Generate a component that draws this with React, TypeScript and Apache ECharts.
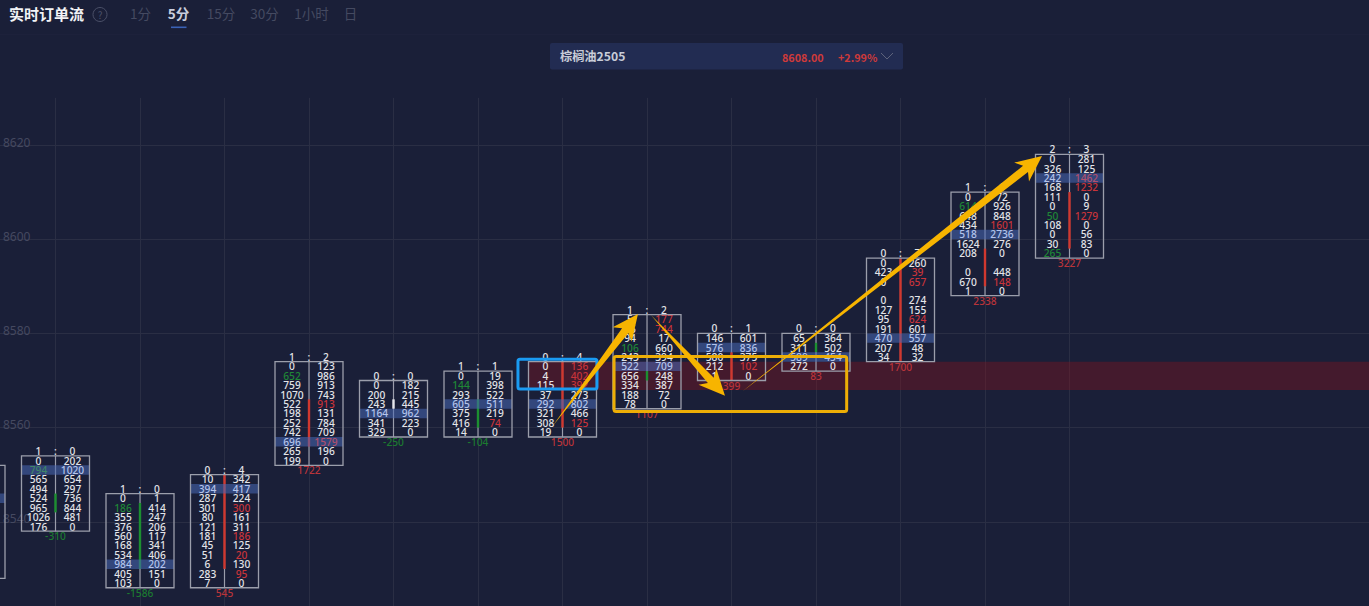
import React, { useEffect, useRef } from "react";
import * as echarts from "echarts";

const slots = [0, 1, 2, 3, 4, 5, 6, 7, 8, 9, 10, 11, 12, 13];
const axisSlots = ["0","1","2","3","4","5","6","7","8","9","10","11","12","13","14","15","16","17"];
const topPrices = [8552, 8554, 8546, 8550, 8574, 8570, 8572, 8574, 8584, 8580, 8580, 8596, 8610, 8618];
const headers = ["", "1 : 0", "1 : 0", "0 : 4", "1 : 2", "0 : 0", "1 : 1", "0 : 4", "1 : 2", "0 : 1", "0 : 0", "0 : 7", "1 : 1", "2 : 3"];
const deltas = [null, -310, -1586, 545, 1722, -250, -104, 1500, 1107, 399, 83, 1700, 2338, 3227];
const pocRows = [3, 1, 7, 1, 8, 3, 3, 4, 5, 1, 2, 8, 4, 2];
const bids: (number | null)[][] = [
  [null, null, null, null, null, null, null, null, null, null, null, null],
  [0, 794, 565, 494, 524, 965, 1026, 176],
  [0, 186, 355, 376, 560, 168, 534, 984, 405, 103],
  [10, 394, 287, 301, 80, 121, 181, 45, 51, 6, 283, 7],
  [0, 652, 759, 1070, 522, 198, 252, 742, 696, 265, 199],
  [0, 200, 243, 1164, 341, 329],
  [0, 144, 293, 605, 375, 416, 14],
  [0, 4, 115, 37, 292, 321, 308, 19],
  [5, 75, 94, 106, 243, 522, 656, 334, 188, 78],
  [146, 576, 580, 212, 1],
  [65, 311, 589, 272],
  [0, 423, 0, null, 0, 127, 95, 191, 470, 207, 34],
  [0, 614, 648, 434, 518, 1624, 208, null, 0, 670, 1],
  [0, 326, 242, 168, 111, 0, 50, 108, 0, 30, 265],
];
const asks: (number | null)[][] = [
  [null, null, null, null, null, null, null, null, null, null, null, null],
  [202, 1020, 654, 297, 736, 844, 481, 0],
  [1, 414, 247, 206, 117, 341, 406, 202, 151, 0],
  [342, 417, 224, 300, 161, 311, 186, 125, 20, 130, 95, 0],
  [123, 986, 913, 743, 913, 131, 784, 709, 1579, 196, 0],
  [182, 215, 445, 962, 223, 0],
  [19, 398, 522, 511, 219, 74, 0],
  [136, 402, 392, 273, 802, 466, 125, 0],
  [177, 744, 17, 660, 394, 709, 248, 387, 72, 0],
  [601, 836, 375, 102, 0],
  [364, 502, 454, 0],
  [260, 39, 657, null, 274, 155, 624, 601, 557, 48, 32],
  [72, 926, 848, 1601, 2736, 276, 0, null, 448, 148, 0],
  [281, 125, 1462, 1232, 0, 9, 1279, 0, 56, 83, 0],
];
const greenBidRows = [[], [1], [1], [], [1], [], [1], [], [3], [], [], [], [1], [6, 10]];
const redAskRows = [[], [], [], [3, 6, 8, 10], [4, 8], [], [5], [0, 1, 2, 6], [0, 1], [3], [], [1, 2, 6], [3, 9], [2, 3, 6]];
const barFrom = [0, 4, 1, 0, 4, 2, 3, 0, 6, 2, 1, 0, 6, 4];
const barTo = [0, 5, 7, 9, 8, 2, 5, 6, 6, 4, 1, 10, 9, 9];
const barKinds = ["none", "green", "green", "red", "red", "white", "green", "red", "green", "red", "green", "red", "red", "red"];

const yTickMin = 8520;
const yTickMax = 8630;

const zoneBand = [[6.59, 8574], [17, 8568]];
const blueBox = [[6.473, 8574.5], [7.408, 8568.2]];
const orangeBox = [[7.61, 8575.1], [10.363, 8563.4]];
const arrows = [
  [[6.876, 8560.16], [7.893, 8584.14]],
  [[8.047, 8583.9], [8.923, 8566.74]],
  [[9.124, 8567.6], [12.675, 8617.67]],
];

const tabs = ["1分", "5分", "15分", "30分", "1小时", "日"];
const tabXs = [140.5, 178.5, 221, 264.5, 311.5, 350.5];
const titleText = "实时订单流";
const symbolName = "棕榈油2505";
const lastPrice = "8608.00";
const changePct = "+2.99%";

const BG = "#1a1f38";
const UI_FONT = '"Noto Sans CJK SC", "Noto Sans", sans-serif';
const NUM_FONT = '"Noto Sans", sans-serif';
const WHITE = "#e4e5e9";
const RED = "#c8343a";
const GREEN = "#1f8736";
const POC_WHITE = "#b4c4ec";
const POC_RED = "#b0506e";
const POC_GREEN = "#3f8468";
const BOX = "#9b9eab";
const BAR: Record<string, string> = { red: "#d0382f", green: "#1c8f30", white: "#e6e7ec" };
const HALF_BOX = 34;
const COL = 17;

function cellText(x: number, y: number, text: string, fill: string, fontSize = 10.2) {
  return {
    type: "text",
    style: { x, y, text, fill, fontSize, fontFamily: NUM_FONT, fontWeight: 500, align: "center", verticalAlign: "middle" },
  };
}

function renderCandle(params: any, api: any) {
  const i = params.dataIndex;
  const [cx, top] = api.coord([api.value(0), api.value(1)]);
  const rowH = api.size([0, 2])[1];
  const n = bids[i].length;
  const h = rowH * n;
  const children: any[] = [];
  // centre line
  children.push({ type: "line", shape: { x1: cx, y1: top, x2: cx, y2: top + h }, style: { stroke: "#9a9dab", lineWidth: 1.2 } });
  if (barKinds[i] !== "none") {
    children.push({
      type: "rect",
      shape: { x: cx - 1.2, y: top + barFrom[i] * rowH, width: 2.4, height: (barTo[i] - barFrom[i] + 1) * rowH },
      style: { fill: BAR[barKinds[i]] },
    });
  }
  // point-of-control band
  children.push({
    type: "rect",
    shape: { x: cx - HALF_BOX, y: top + pocRows[i] * rowH, width: HALF_BOX * 2, height: rowH },
    style: { fill: "rgba(72,104,180,0.55)" },
  });
  for (let r = 0; r < n; r++) {
    const y = top + (r + 0.5) * rowH;
    const b = bids[i][r];
    const a = asks[i][r];
    const poc = r === pocRows[i];
    const plain = poc ? POC_WHITE : WHITE;
    if (b !== null) children.push(cellText(cx - COL, y, String(b), greenBidRows[i].includes(r) ? (poc ? POC_GREEN : GREEN) : plain));
    if (a !== null) children.push(cellText(cx + COL, y, String(a), redAskRows[i].includes(r) ? (poc ? POC_RED : RED) : plain));
  }
  children.push({
    type: "rect",
    shape: { x: cx - HALF_BOX, y: top, width: HALF_BOX * 2, height: h },
    style: { fill: "none", stroke: BOX, lineWidth: 1.3 },
  });
  if (headers[i]) {
    const [l, , rr] = headers[i].split(" ");
    children.push(cellText(cx - COL, top - 5, l, WHITE));
    children.push(cellText(cx, top - 5, ":", WHITE));
    children.push(cellText(cx + COL, top - 5, rr, WHITE));
  }
  const d = deltas[i];
  if (d !== null) children.push(cellText(cx, top + h + 5, String(d), d < 0 ? "#1c7a30" : "#b9343a"));
  return { type: "group", children };
}

function renderBand(_p: any, api: any) {
  const a = api.coord(zoneBand[0]);
  const b = api.coord(zoneBand[1]);
  return { type: "rect", shape: { x: a[0], y: a[1], width: b[0] - a[0], height: b[1] - a[1] }, style: { fill: "rgba(132,20,30,0.4)" } };
}

function renderBoxes(_p: any, api: any) {
  const mk = (box: number[][], stroke: string) => {
    const a = api.coord(box[0]);
    const b = api.coord(box[1]);
    return {
      type: "rect",
      shape: { x: a[0], y: a[1], width: b[0] - a[0], height: b[1] - a[1], r: 2 },
      style: { fill: "none", stroke, lineWidth: 3 },
    };
  };
  return { type: "group", children: [mk(orangeBox, "#edae06"), mk(blueBox, "#1a9bf2")] };
}

function renderArrow(params: any, api: any) {
  const seg = arrows[params.dataIndex];
  const t = api.coord(seg[0]);
  const h = api.coord(seg[1]);
  const dx = h[0] - t[0];
  const dy = h[1] - t[1];
  const len = Math.hypot(dx, dy);
  const ux = dx / len;
  const uy = dy / len;
  const nx = -uy;
  const ny = ux;
  const headLen = 26;
  const neckLen = 21;
  const headHalf = 12;
  const shaftHalf = 4;
  const at = (d: number, side: number): number[] => [t[0] + ux * d + nx * side, t[1] + uy * d + ny * side];
  const neck = len - neckLen;
  const points = [
    [t[0], t[1]],
    at(neck * 0.4, shaftHalf * 0.4),
    at(neck, shaftHalf),
    at(len - headLen, headHalf),
    [h[0], h[1]],
    at(len - headLen, -headHalf),
    at(neck, -shaftHalf),
    at(neck * 0.4, -shaftHalf * 0.4),
  ];
  return { type: "polygon", shape: { points }, style: { fill: "#f7b400" } };
}

const headerGraphics = [
  { type: "text", x: 9, y: 13.5, style: { text: titleText, fill: "#f2f3f6", fontSize: 15, fontWeight: "bold", fontFamily: UI_FONT, verticalAlign: "middle" } },
  { type: "circle", shape: { cx: 100, cy: 14.5, r: 7 }, style: { fill: "none", stroke: "#4b5068", lineWidth: 1 } },
  { type: "text", x: 100, y: 14.5, style: { text: "?", fill: "#4b5068", fontSize: 10, fontFamily: UI_FONT, align: "center", verticalAlign: "middle" } },
  ...tabs.map((t, i) => ({
    type: "text",
    x: tabXs[i],
    y: 13,
    style: {
      text: t,
      fill: i === 1 ? "#c9cede" : "#454a61",
      fontSize: 13.5,
      fontWeight: i === 1 ? "bold" : "normal",
      fontFamily: UI_FONT,
      align: "center",
      verticalAlign: "middle",
    },
  })),
  { type: "rect", shape: { x: 171, y: 26.5, width: 15.5, height: 1.6 }, style: { fill: "#3a62b6" } },
  { type: "rect", shape: { x: 0, y: 34, width: 1369, height: 1 }, style: { fill: "#1d213b" } },
  { type: "rect", shape: { x: 550, y: 43, width: 353, height: 26.5, r: 2 }, style: { fill: "#222c52" } },
  { type: "text", x: 560, y: 55.5, style: { text: symbolName, fill: "#c8ccd8", fontSize: 12.2, fontWeight: "bold", fontFamily: UI_FONT, verticalAlign: "middle" } },
  { type: "text", x: 782, y: 56.5, style: { text: lastPrice, fill: "#cf3a3a", fontSize: 10.8, fontWeight: "bold", fontFamily: UI_FONT, verticalAlign: "middle" } },
  { type: "text", x: 838, y: 56.5, style: { text: changePct, fill: "#cf3a3a", fontSize: 10.8, fontWeight: "bold", fontFamily: UI_FONT, verticalAlign: "middle" } },
  { type: "polyline", shape: { points: [[881, 53], [887, 59], [893, 53]] }, style: { fill: "none", stroke: "#5d637b", lineWidth: 1 } },
];

export default function App() {
  const ref = useRef<HTMLDivElement>(null);
  useEffect(() => {
    document.body.style.margin = "0";
    document.body.style.background = BG;
    const chart = echarts.init(ref.current!, null, { renderer: "svg" });
    chart.setOption({
      animation: false,
      backgroundColor: BG,
      grid: { left: -29, right: -38.5, top: 97.9, bottom: -10, containLabel: false, outerBoundsMode: "none" },
      xAxis: [
        { type: "value", min: 0, max: 17, show: false },
        {
          type: "category",
          data: axisSlots,
          boundaryGap: false,
          axisLine: { show: false },
          axisTick: { show: false },
          axisLabel: { show: false },
          splitLine: {
            show: true,
            interval: (idx: number) => idx <= 13,
            lineStyle: { color: "#2a2e44", width: 1 },
          },
        },
      ],
      yAxis: {
        type: "value",
        min: yTickMin,
        max: yTickMax,
        interval: 20,
        axisLine: { show: false, onZero: false },
        axisTick: { show: false },
        axisLabel: {
          inside: true,
          margin: 32,
          showMaxLabel: false,
          showMinLabel: false,
          color: "#454960",
          fontSize: 12,
          fontFamily: NUM_FONT,
          verticalAlign: "bottom",
          lineHeight: 6,
          formatter: (v: number) => String(v),
        },
        splitLine: { show: true, showMaxLine: false, lineStyle: { color: "#2a2e44", width: 1 } },
      },
      graphic: headerGraphics,
      series: [
        { type: "custom", z: 1, xAxisIndex: 0, renderItem: renderBand, data: [[zoneBand[0][0], zoneBand[0][1]]], silent: true, clip: false },
        {
          type: "custom",
          z: 2,
          xAxisIndex: 0,
          renderItem: renderCandle,
          encode: { x: 0, y: 1 },
          data: slots.map((s, i) => [s, topPrices[i]]),
          silent: true,
          clip: false,
        },
        { type: "custom", z: 3, xAxisIndex: 0, renderItem: renderBoxes, data: [[blueBox[0][0], blueBox[0][1]]], silent: true, clip: false },
        {
          type: "custom",
          z: 4,
          xAxisIndex: 0,
          renderItem: renderArrow,
          data: arrows.map((a) => [a[1][0], a[1][1]]),
          silent: true,
          clip: false,
        },
      ],
    });
    return () => chart.dispose();
  }, []);
  return <div ref={ref} style={{ position: "fixed", left: 0, top: 0, width: 1369, height: 606 }} />;
}
